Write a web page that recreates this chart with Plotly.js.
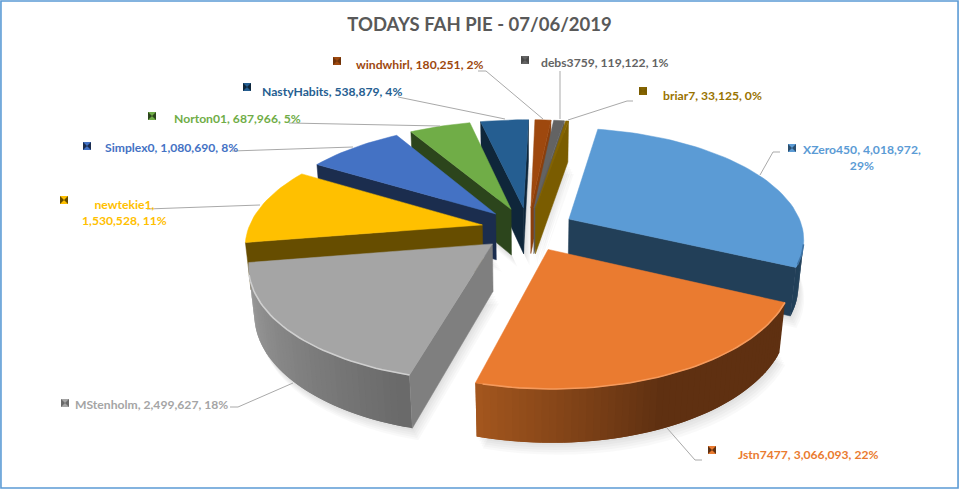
<!DOCTYPE html>
<html><head><meta charset="utf-8">
<script src="https://cdn.plot.ly/plotly-3.0.1.min.js"></script>
<style>html,body{margin:0;padding:0;background:#fff}#c{width:959px;height:489px}</style>
</head><body><div id="c"></div><script>
// ---- data ----
const names  = ["XZero450","Jstn7477","MStenholm","newtekie1","Simplex0","Norton01","NastyHabits","windwhirl","debs3759","briar7"];
const values = [4018972,3066093,2499627,1530528,1080690,687966,538879,180251,119122,33125];
const percentLabels = ["29%","22%","18%","11%","8%","5%","4%","2%","1%","0%"];
const valueLabels = ["4,018,972","3,066,093","2,499,627","1,530,528","1,080,690","687,966","538,879","180,251","119,122","33,125"];
// ---- styles ----
const topColors  = ["#5b9bd5","#ea7b30","#a5a5a5","#ffc000","#4472c4","#70ad47","#255e91","#9e480e","#636363","#856400"];
const wallStart  = ["#2a4f70","#5f3011","#6a6a6a","#664d00","#1b2d4e","#2c451c","#0f263a","#6e3209","#4a4a4a","#7a5c00"];
const wallEnd    = ["#223f58","#a8591f","#a0a0a0","#664d00","#1b2d4e","#2c451c","#0f263a","#6e3209","#4a4a4a","#7a5c00"];
const wallRamp   = [0,0.5,0,0,0,0,0,0,0,0];
const radialWall = ["#223f58","#5f3011","#7f7f7f","#664d00","#1b2d4e","#2c451c","#0f263a","#8a3f0c","#5a5a5a","#7a5c00"];
const rimColors  = ["#3f74a6","#f59a5c","#cfcfcf",null,null,null,null,null,null,null];
// ---- 3D view ----
const view = {cx:528, cy:229, S:234, D:5.38, sin:0.466, cos:0.885, h:0.23, explode:0.2, startDeg:10};
function project(X,Y,Z){
  const k = view.S*view.D/(view.D + Y*view.cos - Z*view.sin);
  return [view.cx + X*k, view.cy - (Y*view.sin + Z*view.cos)*k];
}
const rad = d => d*Math.PI/180;
const total = values.reduce((a,b)=>a+b,0);
const traces = [];
function poly(pts,fill,name,lineWidth){
  traces.push({type:"scatter",mode:"lines",x:pts.map(p=>p[0]),y:pts.map(p=>p[1]),fill:"toself",fillcolor:fill,
    line:{color:fill,width:lineWidth||0},hoverinfo:"skip",name:name,showlegend:false});
}
function area(p){let a=0;for(let i=0;i<p.length;i++){const q=p[(i+1)%p.length];a+=p[i][0]*q[1]-q[0]*p[i][1];}return a/2;}
function hex(c){return [1,3,5].map(i=>parseInt(c.substr(i,2),16));}
function mix(a,b,t){const A=hex(a),B=hex(b);return "rgb("+A.map((v,i)=>Math.round(v+(B[i]-v)*t)).join(",")+")";}

let acc = view.startDeg;
const slices = values.map((v,i)=>{
  const sweep = v/total*360, a0=acc, a1=acc+sweep; acc=a1;
  const mid=(a0+a1)/2;
  return {i,a0,a1,mid,ox:view.explode*Math.sin(rad(mid)),oy:view.explode*Math.cos(rad(mid))};
});
function rimPoint(s,a,Z){return project(s.ox+Math.sin(rad(a)),s.oy+Math.cos(rad(a)),Z);}
function arcAngles(s,step){const n=Math.max(1,Math.ceil((s.a1-s.a0)/step));const o=[];for(let k=0;k<=n;k++)o.push(s.a0+(s.a1-s.a0)*k/n);return o;}

// soft shadows
for(let l=1;l<=5;l++){
  slices.forEach(s=>{
    const pts=[project(s.ox,s.oy,-view.h)].concat(arcAngles(s,4).map(a=>rimPoint(s,a,-view.h)))
      .map(p=>[p[0]+l*1.2,p[1]+l*2.4]);
    poly(pts,"rgba(0,0,0,0.022)","shadow");
  });
}
// back to front
slices.slice().sort((a,b)=>Math.cos(rad(b.mid))-Math.cos(rad(a.mid))).forEach(s=>{
  const i=s.i, n=names[i], h=view.h;
  const ap=[s.ox,s.oy];
  const ang=arcAngles(s,1.5);
  const facing=(a,b)=>area([rimPoint(s,a,0),rimPoint(s,b,0),rimPoint(s,b,-h),rimPoint(s,a,-h)])<=0;
  // outer wall, painted so that each strip overlaps the previous one
  const order=[];for(let k=ang.length-2;k>=0;k--)order.push(k);
  order.forEach(k=>{
    const a=ang[k],b=ang[k+1],c=ang[Math.min(k+2,ang.length-1)];
    const q=[rimPoint(s,a,0),rimPoint(s,c,0),rimPoint(s,c,-h),rimPoint(s,a,-h)];
    if(!facing(a,b)) return;
    const t=Math.max(0,(k/(ang.length-1)-wallRamp[i])/(1-wallRamp[i]));
    poly(q.concat([q[0]]),mix(wallStart[i],wallEnd[i],t),n+" rim");
  });
  [s.a0,s.a1].forEach((a,idx)=>{
    const t=rimPoint(s,a,0), b=rimPoint(s,a,-h), at=project(ap[0],ap[1],0), ab=project(ap[0],ap[1],-h);
    const q=[at,t,b,ab];
    const sgn=area(q)*(idx===0?1:-1);
    if(sgn<0) poly(q.concat([at]),radialWall[i],n+" wall",0.5);
  });
  const top=[project(ap[0],ap[1],0)].concat(arcAngles(s,2).map(a=>rimPoint(s,a,0)));
  poly(top.concat([top[0]]),topColors[i],n,0.5);
  if(rimColors[i]){
    // the bevel only catches the light where the outer wall faces the viewer
    const r=ang.filter((a,k)=>k<ang.length-1&&facing(a,ang[k+1])).map(a=>rimPoint(s,a,0));
    traces.push({type:"scatter",mode:"lines",x:r.map(p=>p[0]),y:r.map(p=>p[1]),line:{color:rimColors[i],width:1.6},
      hoverinfo:"skip",showlegend:false,name:n+" edge"});
  }
});
// ---- label placement ----
const labelFont = {family:"Lato, 'Liberation Sans', sans-serif",size:12.15};
const labelLayout = [
 {x:862,y:157,a:"center",br:true,kx:792,ky:148},
 {x:736,y:454,a:"left",kx:712,ky:450},
 {x:73,y:404,a:"left",kx:65,ky:403},
 {x:124,y:212,a:"center",br2:true,kx:64,ky:200},
 {x:103,y:147,a:"left",kx:87,ky:146},
 {x:172,y:118,a:"left",kx:152,ky:116},
 {x:260,y:91,a:"left",kx:247,ky:87},
 {x:354,y:64,a:"left",kx:337,ky:61},
 {x:539,y:62,a:"left",kx:525,ky:60},
 {x:661,y:95,a:"left",kx:643,ky:91}
];
const leaders = [
 [[780,152],[773,152],[760,175]],
 [[702,460],[695,460],[667,428]],
 [[230,407],[238,407],[293,383]],
 [[147,209],[260,205]],
 [[232,151],[353,147]],
 [[289,123],[440,126]],
 [[398,97],[505,119]],
 [[478,71],[486,71],[543,119]],
 [[560,71],[560,119]],
 [[633,101],[627,101],[568,120]]
];
leaders.forEach((l,i)=>traces.push({type:"scatter",mode:"lines",x:l.map(p=>p[0]),y:l.map(p=>p[1]),
  line:{color:"#a9a9a9",width:1},hoverinfo:"skip",showlegend:false,name:names[i]+" leader"}));
// legend keys
labelLayout.forEach((p,i)=>{
  traces.push({type:"scatter",mode:"markers",x:[p.kx],y:[p.ky],hoverinfo:"skip",showlegend:false,
    marker:{symbol:"square",size:8,color:topColors[i]},name:names[i]+" key"});
  traces.push({type:"scatter",mode:"markers",x:[p.kx],y:[p.ky],hoverinfo:"skip",showlegend:false,
    marker:{symbol:"bowtie",size:8,color:wallStart[i]},name:names[i]+" key"});
});
const annotations = names.map((n,i)=>{
  const p=labelLayout[i];
  let text=n+", "+valueLabels[i]+", "+percentLabels[i];
  if(p.br) text=n+", "+valueLabels[i]+",<br>"+percentLabels[i];
  if(p.br2) text=n+",<br>"+valueLabels[i]+", "+percentLabels[i];
  return {x:p.x,y:p.y,xref:"x",yref:"y",text:"<b>"+text+"</b>",showarrow:false,xanchor:p.a,yanchor:"middle",align:"center",
    font:Object.assign({},labelFont,{color:topColors[i]==="#856400"?"#997300":topColors[i]})};
});
const layout = {
  width:959,height:489,margin:{l:0,r:0,t:0,b:0},paper_bgcolor:"#fff",plot_bgcolor:"#fff",showlegend:false,
  title:{text:"<b>TODAYS FAH PIE - 07/06/2019</b>",x:0.5,xanchor:"center",y:0.949,yanchor:"middle",
    font:{family:"Lato, 'Liberation Sans', sans-serif",size:18.5,color:"#595959"}},
  xaxis:{range:[0,959],visible:false,fixedrange:true},
  yaxis:{range:[489,0],visible:false,fixedrange:true},
  annotations:annotations,
  shapes:[{type:"rect",xref:"paper",yref:"paper",x0:0.001,x1:0.999,y0:0.002,y1:0.998,line:{color:"#5b9bd5",width:1.6}}]
};
Plotly.newPlot("c",traces,layout,{displayModeBar:false,staticPlot:true});
</script></body></html>
